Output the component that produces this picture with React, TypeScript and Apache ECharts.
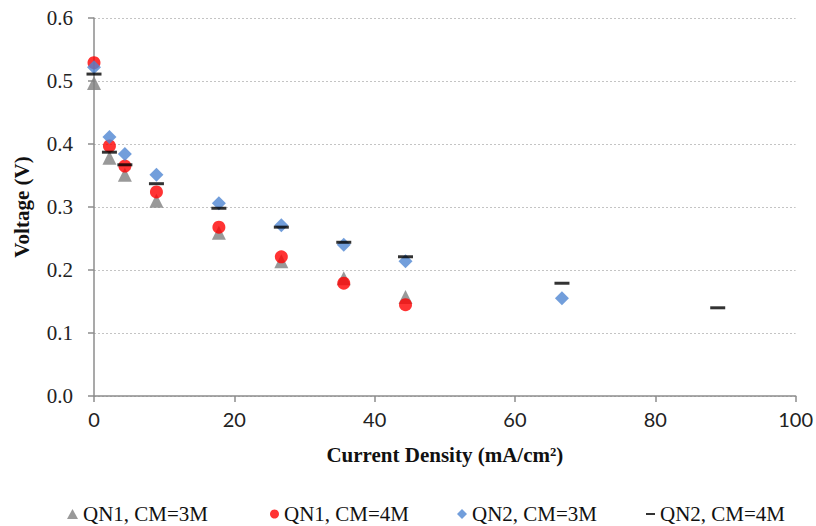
import React, { useEffect, useRef } from "react";
import * as echarts from "echarts";

const currentDensity = [0, 2.2, 4.4, 8.9, 17.8, 26.7, 35.6, 44.4, 66.7, 88.9];
const qn1Cm3 = [0.497, 0.378, 0.351, 0.31, 0.259, 0.214, 0.187, 0.157];
const qn1Cm4 = [0.529, 0.397, 0.365, 0.324, 0.268, 0.221, 0.179, 0.145];
const qn2Cm3 = [0.522, 0.411, 0.384, 0.351, 0.306, 0.271, 0.24, 0.214, 0.155];
const qn2Cm4 = [0.511, 0.387, 0.367, 0.337, 0.298, 0.268, 0.244, 0.221, 0.179, 0.14];

const seriesNames = ["QN1, CM=3M", "QN1, CM=4M", "QN2, CM=3M", "QN2, CM=4M"];
const xTicks = [0, 20, 40, 60, 80, 100];

const pairs = (ys: number[]) => ys.map((y, i) => [currentDensity[i], y]);

const serif = "Liberation Serif";
const sans = "Lato";

export default function App() {
  const ref = useRef<HTMLDivElement>(null);
  useEffect(() => {
    document.body.style.margin = "0";
    if (!ref.current) return;
    const chart = echarts.init(ref.current, null, { renderer: "svg" });
    const legendBase = {
      top: 503,
      padding: 0,
      itemGap: 0,
      textStyle: { fontFamily: serif, fontSize: 21, color: "#111", lineHeight: 22 },
      selectedMode: false,
    };
    chart.setOption({
      animation: false,
      backgroundColor: "#ffffff",
      grid: { left: 94, right: 19, top: 18, bottom: 130, containLabel: false },
      xAxis: {
        type: "value",
        min: xTicks[0],
        max: xTicks[xTicks.length - 1],
        interval: 20,
        name: "Current Density (mA/cm²)",
        nameLocation: "middle",
        nameGap: 48,
        nameTextStyle: { fontFamily: serif, fontSize: 21, fontWeight: "bold", color: "#111" },
        axisLine: { show: true, lineStyle: { color: "#8c8c8c", width: 1.5 } },
        axisTick: { show: true, length: 6, lineStyle: { color: "#8c8c8c", width: 1.5 } },
        axisLabel: { fontFamily: sans, fontSize: 20, color: "#222", margin: 13 },
        splitLine: { show: false },
      },
      yAxis: {
        type: "value",
        min: 0,
        max: 0.6,
        interval: 0.1,
        name: "Voltage (V)",
        nameLocation: "middle",
        nameGap: 62,
        nameTextStyle: { fontFamily: serif, fontSize: 21, fontWeight: "bold", color: "#111" },
        axisLine: { show: true, lineStyle: { color: "#8c8c8c", width: 1.5 } },
        axisTick: { show: true, length: 6, lineStyle: { color: "#8c8c8c", width: 1.5 } },
        axisLabel: {
          fontFamily: serif,
          fontSize: 21,
          color: "#222",
          margin: 21,
          formatter: (v: number) => v.toFixed(1),
        },
        splitLine: { show: true, lineStyle: { color: "#c4c4c4", type: [2, 2], width: 1 } },
      },
      legend: [
        { ...legendBase, left: 67, itemWidth: 11, itemHeight: 10, data: [{ name: seriesNames[0], icon: "triangle" }] },
        { ...legendBase, left: 270, itemWidth: 9, itemHeight: 9, data: [{ name: seriesNames[1], icon: "circle" }] },
        { ...legendBase, left: 457, itemWidth: 10, itemHeight: 10, data: [{ name: seriesNames[2], icon: "diamond" }] },
        { ...legendBase, left: 646, itemWidth: 9, itemHeight: 2, data: [{ name: seriesNames[3], icon: "rect" }] },
      ],
      series: [
        {
          name: seriesNames[0],
          type: "scatter",
          symbol: "triangle",
          symbolSize: 14,
          itemStyle: { color: "#808080" },
          data: pairs(qn1Cm3),
        },
        {
          name: seriesNames[1],
          type: "scatter",
          symbol: "circle",
          symbolSize: 13,
          itemStyle: { color: "#ff0000" },
          data: pairs(qn1Cm4),
        },
        {
          name: seriesNames[2],
          type: "scatter",
          symbol: "diamond",
          symbolSize: 14,
          itemStyle: { color: "#4f86d2" },
          data: pairs(qn2Cm3),
        },
        {
          name: seriesNames[3],
          type: "scatter",
          symbol: "rect",
          symbolSize: [15, 3],
          itemStyle: { color: "#000000" },
          data: pairs(qn2Cm4),
        },
      ],
    });
    return () => chart.dispose();
  }, []);
  return (
    <div
      ref={ref}
      style={{ position: "absolute", left: 0, top: 0, width: 816, height: 526 }}
    />
  );
}
